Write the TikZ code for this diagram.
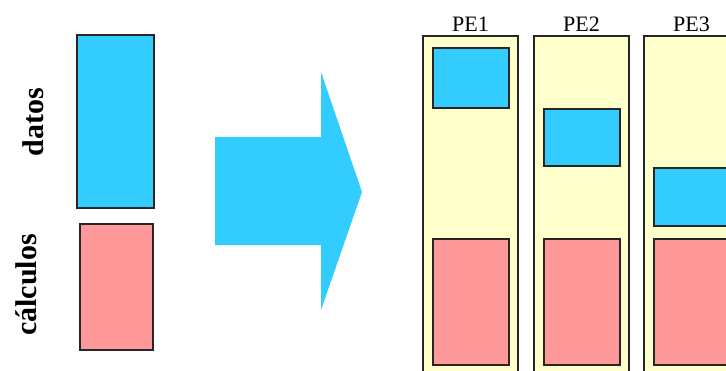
\documentclass[tikz,border=0pt]{standalone}
\usepackage{fontspec}
\setmainfont{Liberation Serif}
\usetikzlibrary{positioning}

\definecolor{datoblue}{HTML}{33CCFF}
\definecolor{calcpink}{HTML}{FF9999}
\definecolor{peyellow}{HTML}{FFFFCC}

\begin{document}
\begin{tikzpicture}[x=1pt, y=-1pt,
    blk/.style={draw=black!85, line width=1.2pt, inner sep=0pt, outer sep=0pt, anchor=north west},
    datobox/.style={blk, fill=datoblue},
    calcbox/.style={blk, fill=calcpink},
    pebox/.style={blk, fill=peyellow, minimum width=95pt, minimum height=350pt},
    side/.style={font=\fontsize{30}{34}\selectfont\bfseries, rotate=90, anchor=base, inner sep=0pt},
    pename/.style={font=\fontsize{22}{26}\selectfont, inner sep=0pt}]
    \clip (0,0) rectangle (726,370);

    % Sequential version: data on top, work below
    \node[datobox, minimum width=77pt, minimum height=173pt] (dat) at (77,35) {};
    \node[calcbox, minimum width=73pt, minimum height=126pt] (calc) at (80,224) {};
    \node[side] (datlbl) at (43,122) {datos};
    \node[side] (calclbl) at (36,285) {cálculos};

    % Big arrow
    \fill[datoblue] (215,137) -- (321,137) -- (321,72) -- (362,192)
        -- (321,310) -- (321,245) -- (215,245) -- cycle;

    % One column per processing element
    \foreach \i/\x/\top/\h in {1/423/48/60, 2/534/109/57, 3/644/168/58} {
        \node[pebox] (pe\i) at (\x,36) {};
        \node[pename, above=4pt of pe\i] (pename\i) {PE\i};
        \node[datobox, minimum width=76pt, minimum height=\h pt] (dat\i) at (\x+10,\top) {};
        \node[calcbox, minimum width=76pt, minimum height=126pt] (calc\i) at (\x+10,239) {};
    }
\end{tikzpicture}
\end{document}
